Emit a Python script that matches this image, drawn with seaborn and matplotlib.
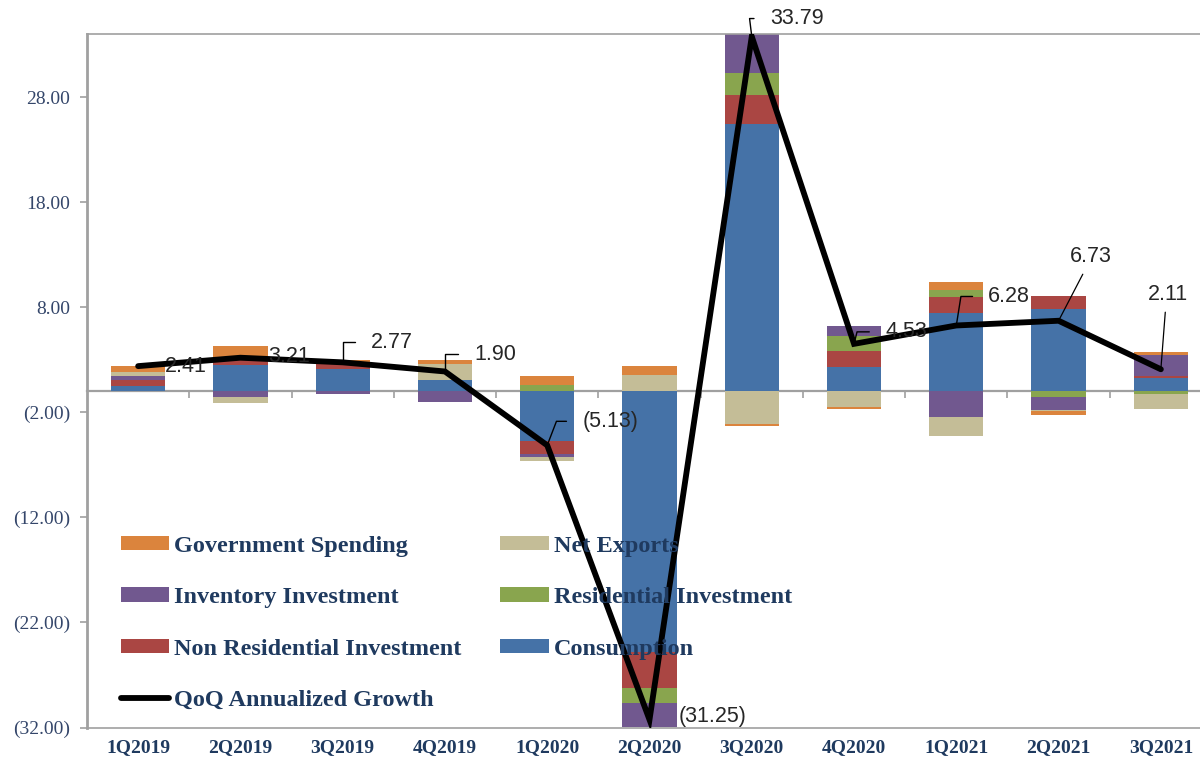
"""Contributions to US real GDP growth, stacked by component, with QoQ annualized growth."""

import matplotlib

matplotlib.use("Agg")
import matplotlib.pyplot as plt
import numpy as np
import seaborn as sns
from matplotlib.lines import Line2D
from matplotlib.patches import Patch


quarters = ["1Q2019", "2Q2019", "3Q2019", "4Q2019", "1Q2020", "2Q2020",
            "3Q2020", "4Q2020", "1Q2021", "2Q2021", "3Q2021"]

consumption = [0.48, 2.53, 2.12, 1.05, -4.75, -24.85, 25.50, 2.31, 7.44, 7.86, 1.27]
non_residential = [0.57, 0.60, 0.45, 0.00, -1.20, -3.42, 2.76, 1.55, 1.58, 1.24, 0.22]
residential = [0.00, 0.10, 0.05, 0.05, 0.63, -1.43, 2.06, 1.46, 0.63, -0.54, -0.22]
inventory = [0.38, -0.50, -0.20, -1.05, -0.32, -2.22, 3.80, 0.95, -2.47, -1.20, 2.00]
net_exports = [0.38, -0.60, 0.00, 1.50, -0.38, 1.58, -3.07, -1.49, -1.81, -0.15, -1.46]
government = [0.60, 1.10, 0.35, 0.35, 0.86, 0.86, -0.25, -0.19, 0.79, -0.40, 0.22]
growth = [2.41, 3.21, 2.77, 1.90, -5.13, -31.25, 33.79, 4.53, 6.28, 6.73, 2.11]

y_ticks = [-32, -22, -12, -2, 8, 18, 28]

# stacking order (bottom first), colours follow the old Excel palette
components = [
    ("Consumption", consumption, "#4572A7"),
    ("Non Residential Investment", non_residential, "#AA4643"),
    ("Residential Investment", residential, "#89A54E"),
    ("Inventory Investment", inventory, "#71588F"),
    ("Net Exports", net_exports, "#C4BD97"),
    ("Government Spending", government, "#DB843D"),
]

NAVY = "#1F3A5F"
GREY = "#A0A0A0"
PX = 0.72  # points per pixel at dpi 100

# label offsets in pixels (dx, dy up), leader style per label
label_layout = [
    (27, 0, None),
    (28, 1, None),
    (28, 20, ("hook", 90)),
    (29, 17, ("hook", 90)),
    (35, 24, ("hook", 69)),
    (29, 3, None),
    (18, 18, ("hook", 97)),
    (31, 12, ("hook", 76)),
    (32, 29, ("hook", 81)),
    (32, 64, ("straight", 0.4)),
    (7, 75, ("straight", 0.45)),
]


def fmt_value(v):
    return f"({abs(v):.2f})" if v < 0 else f"{v:.2f}"


def main():
    sns.set_theme(style="white")
    plt.rcParams["font.family"] = ["Liberation Serif", "DejaVu Sans"]

    fig = plt.figure(figsize=(12, 7.58), dpi=100)
    ax = fig.add_axes([0.0725, 0.0402, 0.9375, 0.9145])

    x = np.arange(len(quarters))
    pos_base = np.zeros(len(quarters))
    neg_base = np.zeros(len(quarters))
    for name, values, color in components:
        vals = np.array(values)
        bottoms = np.where(vals >= 0, pos_base, neg_base)
        ax.bar(x, vals, width=0.53, bottom=bottoms, color=color, linewidth=0, zorder=2)
        pos_base += np.clip(vals, 0, None)
        neg_base += np.clip(vals, None, 0)

    sns.lineplot(x=x, y=growth, ax=ax, color="black", linewidth=4.2, zorder=4,
                 solid_joinstyle="miter")

    for i, v in enumerate(growth):
        dx, dy, leader = label_layout[i]
        kw = dict(xy=(x[i], v), xytext=(dx * PX, dy * PX), textcoords="offset points",
                  fontsize=15.5, family="Liberation Sans", color="#262626",
                  va="center", zorder=5)
        if leader is None:
            ax.annotate(fmt_value(v), ha="left", **kw)
        elif leader[0] == "hook":
            ax.annotate(fmt_value(v), ha="left",
                        arrowprops=dict(arrowstyle="-", color="black", lw=1.0,
                                        relpos=(0, 0.5), shrinkA=9, shrinkB=0,
                                        connectionstyle=f"angle,angleA=0,angleB={leader[1]},rad=0"),
                        **kw)
        else:
            ax.annotate(fmt_value(v), ha="center",
                        arrowprops=dict(arrowstyle="-", color="black", lw=0.9,
                                        relpos=(leader[1], 0), shrinkA=3, shrinkB=0),
                        **kw)

    ax.set_xlim(-0.5, len(quarters) - 0.5)
    ax.set_ylim(-32, 34)
    ax.set_yticks(y_ticks)
    ax.set_yticklabels([fmt_value(t) for t in y_ticks])
    ax.set_xticks(x)
    ax.set_xticklabels(quarters)

    ax.tick_params(axis="y", direction="out", length=5, width=1.2, color=GREY,
                   labelsize=14, labelcolor="#34466A", pad=7, left=True)
    ax.tick_params(axis="x", length=0, pad=8, labelsize=14, labelcolor=NAVY)
    for lab in ax.get_xticklabels():
        lab.set_fontweight("bold")

    for side in ["left", "bottom", "top"]:
        ax.spines[side].set_visible(True)
        ax.spines[side].set_color(GREY)
    ax.spines["left"].set_linewidth(2.0)
    ax.spines["bottom"].set_linewidth(1.2)
    ax.spines["top"].set_linewidth(1.2)
    ax.spines["right"].set_visible(False)

    # category axis crossing at zero, with tick marks between categories
    zero_axis = ax.secondary_xaxis(32 / 66)
    zero_axis.set_xticks(np.arange(0.5, len(quarters) - 0.5))
    zero_axis.set_xticklabels([])
    zero_axis.tick_params(direction="out", length=5, width=1.2, color=GREY)
    zero_axis.spines["bottom"].set_color(GREY)
    zero_axis.spines["bottom"].set_linewidth(1.6)
    zero_axis.spines["bottom"].set_zorder(3)

    by_name = {name: color for name, _, color in components}
    order = ["Government Spending", "Inventory Investment", "Non Residential Investment",
             None, "Net Exports", "Residential Investment", "Consumption"]
    handles, labels = [], []
    for name in order:
        if name is None:
            handles.append(Line2D([], [], color="black", linewidth=4.2))
            labels.append("QoQ Annualized Growth")
        else:
            handles.append(Patch(facecolor=by_name[name], edgecolor="none"))
            labels.append(name)

    leg = ax.legend(handles, labels, ncol=2, frameon=False,
                    loc="upper left", bbox_to_anchor=(0.019, 0.294),
                    prop=dict(family="Liberation Serif", weight="bold", size=17.5),
                    handlelength=2.0, handleheight=0.53, handletextpad=0.2,
                    labelspacing=1.25, columnspacing=1.6, borderpad=0)
    leg.set_zorder(6)
    for text in leg.get_texts():
        text.set_color(NAVY)

    fig.savefig("out.png", dpi=100)
    plt.close(fig)


if __name__ == "__main__":
    main()
